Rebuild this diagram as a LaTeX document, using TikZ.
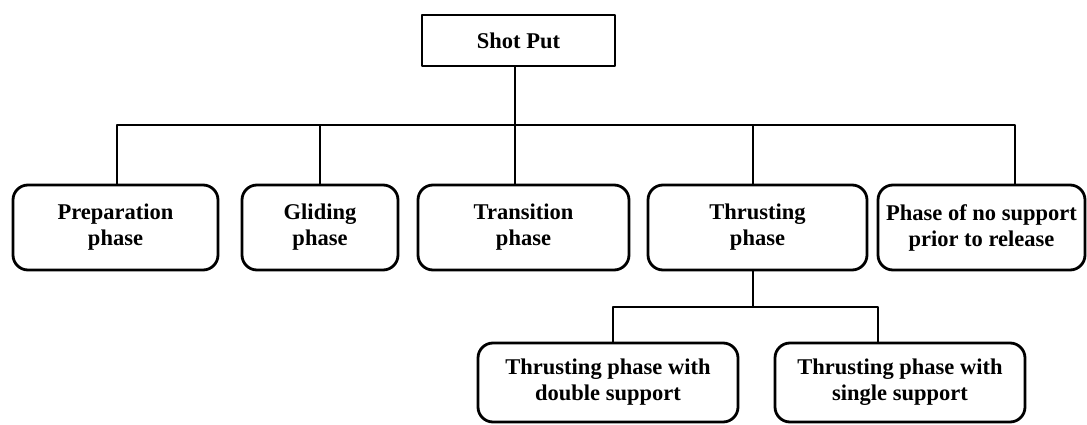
\documentclass[tikz,border=0pt]{standalone}
\usepackage{fontspec}
\setmainfont{Liberation Serif}
\begin{document}
\begin{tikzpicture}[x=1pt,y=-1pt,line join=round,
  lbl/.style={font=\fontsize{22.5}{26}\selectfont\bfseries, align=center, inner sep=0pt},
  rbox/.style={lbl, draw, line width=2.8pt, rounded corners=15pt, minimum height=85pt},
  sbox/.style={lbl, draw, line width=2.8pt, minimum width=193pt, minimum height=51pt},
  conn/.style={line width=2.6pt}]
\useasboundingbox (0,0) rectangle (1087,425);
\node[sbox] (top) at (518.5,40.5) {Shot Put};
\node[rbox, minimum width=205pt] (prep) at (115.5,227.5) {Preparation\\phase};
\node[rbox, minimum width=156pt] (glid) at (320,227.5) {Gliding\\phase};
\node[rbox, minimum width=211pt] (trans) at (523.5,227.5) {Transition\\phase};
\node[rbox, minimum width=219pt] (thr) at (757.5,227.5) {Thrusting\\phase};
\node[rbox, minimum width=207pt] (nos) at (981.5,227.5) {Phase of no support\\prior to release};
\node[rbox, minimum width=260pt, minimum height=79pt] (dbl) at (608,382.5) {Thrusting phase with\\double support};
\node[rbox, minimum width=250pt, minimum height=79pt] (sgl) at (900,382.5) {Thrusting phase with\\single support};
\coordinate (b0) at (515,125);
\coordinate (b1) at (117,125);
\coordinate (b2) at (320,125);
\coordinate (b4) at (753,125);
\coordinate (b5) at (1015,125);
\coordinate (s0) at (753,307);
\coordinate (s1) at (613,307);
\coordinate (s2) at (878,307);
\draw[conn] (b0 |- top.south) -- (b0);
\draw[conn] (b1 |- prep.north) -- (b1) -- (b5) -- (b5 |- nos.north);
\draw[conn] (b2) -- (b2 |- glid.north);
\draw[conn] (b0) -- (b0 |- trans.north);
\draw[conn] (b4) -- (b4 |- thr.north);
\draw[conn] (s0 |- thr.south) -- (s0);
\draw[conn] (s1 |- dbl.north) -- (s1) -- (s2) -- (s2 |- sgl.north);
\end{tikzpicture}
\end{document}
